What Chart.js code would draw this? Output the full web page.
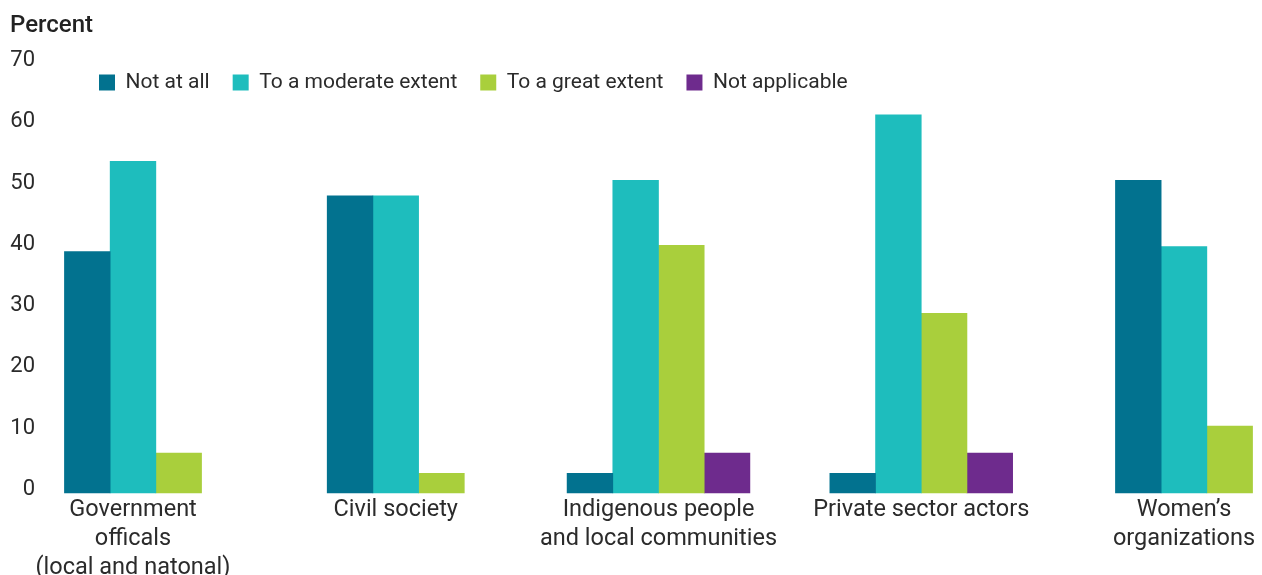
<!DOCTYPE html>
<html>
<head>
<meta charset="utf-8">
<script src="https://cdn.jsdelivr.net/npm/chart.js"></script>
<style>
  body { margin: 0; background: #fff; }
  #wrap { position: relative; width: 1262px; height: 575px; }
  #ytitle { position: absolute; left: 10px; top: 10px; font: 500 24px Roboto, sans-serif; color: #222; }
</style>
</head>
<body>
<div id="wrap">
  <div id="ytitle">Percent</div>
  <canvas id="chart"></canvas>
</div>
<script>
// Categories and series (percent)
const categories = [
    ['Government', 'officals', '(local and natonal)'],
    ['Civil society'],
    ['Indigenous people', 'and local communities'],
    ['Private sector actors'],
    ['Women\u2019s', 'organizations']
];
const notAtAll = [39.4, 48.5, 3.2, 3.2, 51];
const moderate = [54.1, 48.5, 51, 61.7, 40.2];
const great = [6.5, 3.2, 40.4, 29.3, 10.9];
const notApplicable = [null, null, 6.5, 6.5, null];
const yTicks = [0, 10, 20, 30, 40, 50, 60, 70];

const textColor = '#2b2b2b';

// legend floats over the top of the plot, the way the original lays it out
const legendOverlap = {
    id: 'legendOverlap',
    beforeLayout(chart) {
        const lg = chart.legend;
        if (lg && !lg._patched) {
            const fit = lg.fit;
            lg.fit = function () { fit.call(this); this.height = 64; };
            lg._patched = true;
        }
    },
    afterLayout(chart) {
        const lg = chart.legend;
        lg.left = 76; lg.right = chart.width;
        lg.top = 49; lg.bottom = 103;
        lg.width = lg.right - lg.left;
        lg.height = lg.bottom - lg.top;
    }
};

new Chart(document.getElementById('chart'), {
    type: 'bar',
    data: {
        labels: categories,
        datasets: [
            { label: 'Not at all', data: notAtAll, backgroundColor: '#02728f' },
            { label: 'To a moderate extent', data: moderate, backgroundColor: '#1ebdbd' },
            { label: 'To a great extent', data: great, backgroundColor: '#a9cf3c' },
            { label: 'Not applicable', data: notApplicable, backgroundColor: '#6e2b8d' }
        ]
    },
    options: {
        responsive: true,
        maintainAspectRatio: false,
        animation: false,
        layout: { padding: { left: 0, right: 78, top: 0, bottom: 0 } },
        datasets: { bar: { skipNull: true, barThickness: 45.7, clip: false } },
        plugins: {
            legend: {
                position: 'top',
                align: 'start',
                labels: {
                    boxWidth: 16, boxHeight: 16, padding: 23,
                    color: textColor,
                    font: { family: 'Roboto', size: 21 }
                }
            },
            tooltip: { enabled: false }
        },
        scales: {
            x: {
                offset: false,
                grid: { display: false, drawTicks: false },
                border: { display: false },
                ticks: {
                    color: textColor, padding: 3,
                    maxRotation: 0, minRotation: 0, autoSkip: false,
                    font: { family: 'Roboto', size: 23.5, lineHeight: 1.23 }
                },
                afterFit: s => { s.height = 82; s.paddingLeft = 0; s.paddingRight = 0; }
            },
            y: {
                min: 0, max: 70,
                grid: { display: false, drawTicks: false },
                border: { display: false },
                afterBuildTicks: s => { s.ticks = yTicks.map(v => ({ value: v })); },
                ticks: {
                    color: textColor, padding: 98, labelOffset: -3.5,
                    font: { family: 'Roboto', size: 22 }
                },
                afterFit: s => { s.width = 133; s.paddingTop = 0; s.paddingBottom = 0; }
            }
        }
    },
    plugins: [legendOverlap]
});
</script>
</body>
</html>
